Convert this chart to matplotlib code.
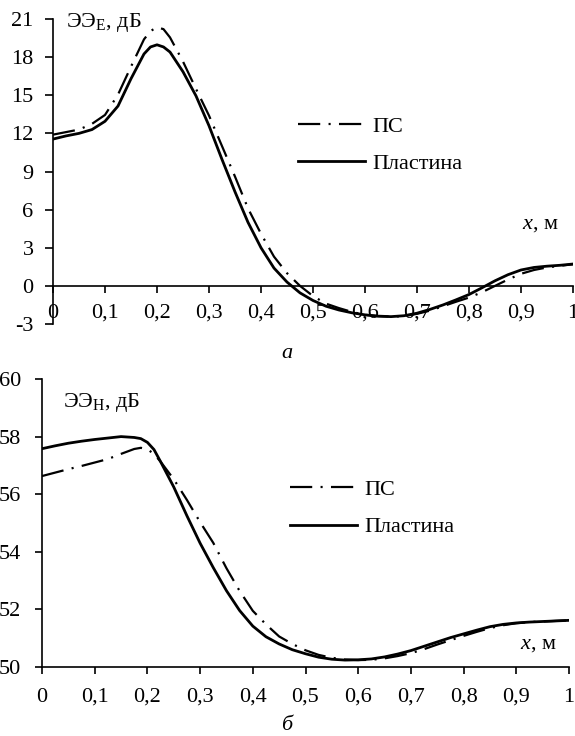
import numpy as np
import matplotlib
matplotlib.use("Agg")
import matplotlib.pyplot as plt

plt.rcParams['font.family'] = ['Liberation Serif', 'DejaVu Serif']
plt.rcParams['mathtext.fontset'] = 'custom'
plt.rcParams['mathtext.rm'] = 'Liberation Serif'
plt.rcParams['mathtext.it'] = 'Liberation Serif:italic'
plt.rcParams['lines.scale_dashes'] = False
plt.rcParams['axes.unicode_minus'] = False

x = [0, 0.025, 0.05, 0.075, 0.1, 0.125, 0.15, 0.175, 0.1875, 0.2, 0.2125,
     0.225, 0.25, 0.275, 0.3, 0.325, 0.35, 0.375, 0.4, 0.425, 0.45, 0.475,
     0.5, 0.525, 0.55, 0.575, 0.6, 0.625, 0.65, 0.675, 0.7, 0.725, 0.75,
     0.775, 0.8, 0.825, 0.85, 0.875, 0.9, 0.925, 0.95, 0.975, 1.0]

# Top panel (а): ЭЭ_E, dB
e_ps = [11.9, 12.1, 12.3, 12.75, 13.45, 15.05, 17.25, 19.4, 20.05, 20.35, 20.2,
        19.55, 17.65, 15.5, 13.4, 11.0, 8.6, 6.1, 4.1, 2.3, 1.0, 0.0,
        -0.8, -1.4, -1.75, -2.05, -2.28, -2.38, -2.42, -2.38, -2.2, -1.95, -1.6,
        -1.25, -0.92, -0.5, 0.0, 0.5, 0.95, 1.25, 1.45, 1.58, 1.7]
e_plate = [11.55, 11.8, 12.0, 12.3, 12.95, 14.15, 16.3, 18.25, 18.8, 18.97, 18.8,
           18.4, 16.85, 14.95, 12.6, 9.95, 7.4, 5.0, 3.0, 1.4, 0.3, -0.55,
           -1.15, -1.6, -1.9, -2.12, -2.28, -2.38, -2.42, -2.35, -2.15, -1.85, -1.5,
           -1.1, -0.68, -0.15, 0.4, 0.88, 1.25, 1.45, 1.55, 1.62, 1.72]

# Bottom panel (б): ЭЭ_H, dB
h_ps = [56.63, 56.75, 56.87, 56.98, 57.1, 57.22, 57.4, 57.57, 57.61, 57.56, 57.4,
        57.13, 56.52, 55.8, 55.03, 54.31, 53.43, 52.64, 51.95, 51.48, 51.06, 50.8,
        50.58, 50.42, 50.32, 50.26, 50.24, 50.25, 50.3, 50.38, 50.48, 50.62, 50.78,
        50.93, 51.08, 51.22, 51.35, 51.45, 51.52, 51.56, 51.58, 51.6, 51.62]
h_plate = [57.58, 57.68, 57.77, 57.84, 57.9, 57.95, 58.0, 57.97, 57.93, 57.8, 57.55,
           57.13, 56.25, 55.25, 54.3, 53.45, 52.65, 51.96, 51.42, 51.05, 50.8, 50.6,
           50.46, 50.34, 50.27, 50.24, 50.25, 50.28, 50.35, 50.45, 50.57, 50.72, 50.87,
           51.02, 51.15, 51.28, 51.4, 51.48, 51.53, 51.56, 51.58, 51.6, 51.62]

xticks = [0, 0.1, 0.2, 0.3, 0.4, 0.5, 0.6, 0.7, 0.8, 0.9, 1]
xticklabels = ['0', '0,1', '0,2', '0,3', '0,4', '0,5', '0,6', '0,7', '0,8', '0,9', '1']
e_ticks = [-3, 0, 3, 6, 9, 12, 15, 18, 21]
h_ticks = [50, 52, 54, 56, 58, 60]
labels = ['ПС', 'Пластина']

W, H = 575, 736
fig = plt.figure(figsize=(W / 100, H / 100), dpi=100)

FS = 16
dashdot = (0, (16, 6, 1.5, 6))
LW = 1.6

def style(ax, xpad):
    for s in ['top', 'right']:
        ax.spines[s].set_visible(False)
    for s in ['left', 'bottom']:
        ax.spines[s].set_linewidth(1.2)
    ax.set_xlim(0, 1)
    ax.set_xticks(xticks)
    ax.set_xticklabels(xticklabels)
    ax.tick_params(axis='x', direction='out', length=5, width=1.2, pad=xpad, labelsize=FS)

# ---- top ----
ax1 = fig.add_axes([53 / W, 1 - 324 / H, 520 / W, 305 / H])
ax1.plot(x, e_ps, color='black', lw=LW, linestyle=dashdot, label=labels[0])
ax1.plot(x, e_plate, color='black', lw=LW + 0.4, label=labels[1])
style(ax1, 8)
ax1.set_ylim(-3, 21)
ax1.set_yticks(e_ticks)
ax1.tick_params(axis='y', direction='out', length=6, width=1.2, pad=8, labelsize=FS)
ax1.spines['bottom'].set_position(('data', 0))
ax1.text(66 / W, 1 - 22 / H, r'ЭЭ$_{\mathrm{Е}}$, дБ', transform=fig.transFigure,
         fontsize=FS, ha='left', va='center')
ax1.text(522 / W, 1 - 224 / H, r'$\mathit{x}$, м', transform=fig.transFigure,
         fontsize=FS, ha='left', va='center')
ax1.legend(loc='center left', bbox_to_anchor=(298 / W, 1 - 145 / H),
           bbox_transform=fig.transFigure, frameon=False, fontsize=FS,
           handlelength=3.0, handletextpad=0.35, borderpad=0, borderaxespad=0,
           labelspacing=0.75)
fig.text(287 / W, 1 - 353 / H, 'а', fontsize=FS, style='italic', ha='center', va='center')

# ---- bottom ----
ax2 = fig.add_axes([42 / W, 1 - 667 / H, 527 / W, 288 / H])
ax2.plot(x, h_ps, color='black', lw=LW, linestyle=dashdot, label=labels[0])
ax2.plot(x, h_plate, color='black', lw=LW + 0.4, label=labels[1])
style(ax2, 10)
ax2.set_ylim(50, 60)
ax2.set_yticks(h_ticks)
ax2.tick_params(axis='y', direction='out', length=5, width=1.2, pad=10, labelsize=FS)
ax2.text(63 / W, 1 - 402 / H, r'ЭЭ$_{\mathrm{Н}}$, дБ', transform=fig.transFigure,
         fontsize=FS, ha='left', va='center')
ax2.text(520 / W, 1 - 645 / H, r'$\mathit{x}$, м', transform=fig.transFigure,
         fontsize=FS, ha='left', va='center')
ax2.legend(loc='center left', bbox_to_anchor=(290 / W, 1 - 508.5 / H),
           bbox_transform=fig.transFigure, frameon=False, fontsize=FS,
           handlelength=3.0, handletextpad=0.35, borderpad=0, borderaxespad=0,
           labelspacing=0.75)
fig.text(287 / W, 1 - 725 / H, 'б', fontsize=FS, style='italic', ha='center', va='center')

fig.savefig('out.png', dpi=100)
